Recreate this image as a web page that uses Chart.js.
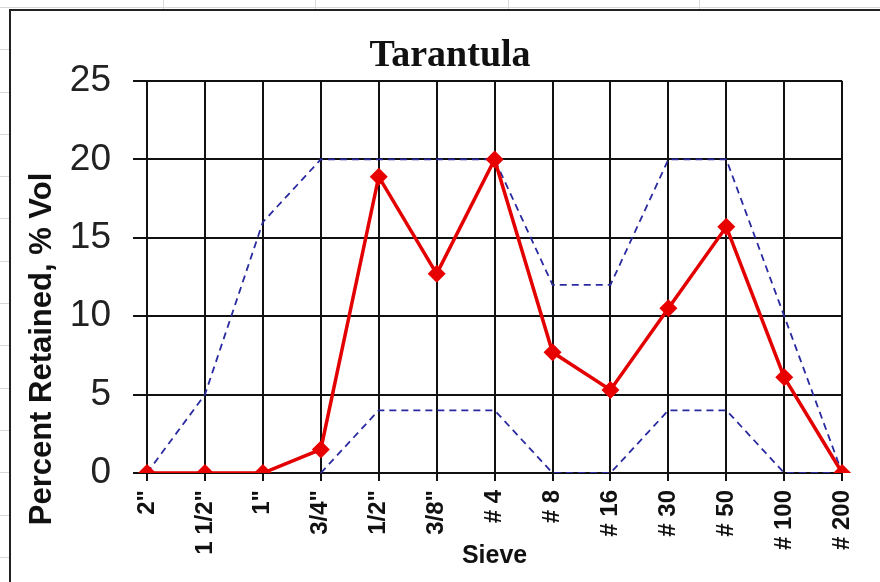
<!DOCTYPE html>
<html>
<head>
<meta charset="utf-8">
<script src="https://cdn.jsdelivr.net/npm/chart.js@4.4.1/dist/chart.umd.min.js"></script>
<style>
    body { margin: 0; width: 880px; height: 582px; overflow: hidden; position: relative; background: #fff; }
    /* spreadsheet cells behind the chart object */
    .sheet {
        position: absolute; left: 0; top: 0; width: 880px; height: 582px;
        background:
            linear-gradient(#d8d8d8, #d8d8d8) 163px 0 / 1px 100% no-repeat,
            linear-gradient(#d8d8d8, #d8d8d8) 315px 0 / 1px 100% no-repeat,
            linear-gradient(#d8d8d8, #d8d8d8) 508px 0 / 1px 100% no-repeat,
            linear-gradient(#d8d8d8, #d8d8d8) 699px 0 / 1px 100% no-repeat,
            repeating-linear-gradient(to bottom, transparent 0, transparent 7px, #d8d8d8 7px, #d8d8d8 8px, transparent 8px, transparent 42.3px);
    }
    .frame {
        position: absolute; left: 9px; top: 9px; right: -10px; bottom: -10px;
        background: #fff; border-left: 2px solid #222; border-top: 2px solid #222;
    }
    #chart { position: absolute; left: 0; top: 0; }
</style>
</head>
<body>
<div class="sheet"></div>
<div class="frame"></div>
<canvas id="chart" width="880" height="582"></canvas>
<script>
const sieves = ['2"', '1 1/2"', '1"', '3/4"', '1/2"', '3/8"', '# 4', '# 8', '# 16', '# 30', '# 50', '# 100', '# 200'];
const retained = [0, 0, 0, 1.5, 18.9, 12.7, 20, 7.7, 5.3, 10.5, 15.7, 6.1, 0];
const upperLimit = [0, 5, 16, 20, 20, 20, 20, 12, 12, 20, 20, 10, 0];
const lowerLimit = [null, null, null, 0, 4, 4, 4, 0, 0, 4, 4, 0, 0];
const yMin = 0, yMax = 25, yStep = 5;

const chartTitle = 'Tarantula';
const yTitle = 'Percent Retained, % Vol';
const xTitle = 'Sieve';

const sans = '"Liberation Sans", Arial, sans-serif';
const ink = '#111';

// Excel places the chart and value-axis titles on its own; draw them where the original has them
const freeTitles = {
    id: 'freeTitles',
    afterDraw: (chart) => {
        const ctx = chart.ctx;
        ctx.save();
        ctx.fillStyle = ink;
        ctx.textAlign = 'center';
        ctx.textBaseline = 'middle';
        ctx.font = 'bold 38px "Liberation Serif", "Times New Roman", serif';
        ctx.fillText(chartTitle, 450, 56);

        ctx.translate(42, 349);
        ctx.rotate(-Math.PI / 2);
        ctx.font = 'bold 31px ' + sans;
        ctx.fillText(yTitle, 0, 0);
        ctx.restore();
    }
};

new Chart(document.getElementById('chart'), {
    type: 'line',
    data: {
        labels: sieves,
        datasets: [
            {
                label: 'Tarantula',
                data: retained,
                borderColor: '#e30000',
                backgroundColor: '#e30000',
                borderWidth: 3.5,
                pointStyle: 'rectRot',
                pointRadius: 9,
                pointBorderWidth: 0,
                pointBackgroundColor: '#e80000',
                tension: 0
            },
            {
                label: 'Upper limit',
                data: upperLimit,
                borderColor: '#2a2aa0',
                borderWidth: 1.8,
                borderDash: [7, 5],
                pointRadius: 0,
                tension: 0
            },
            {
                label: 'Lower limit',
                data: lowerLimit,
                borderColor: '#2a2aa0',
                borderWidth: 1.8,
                borderDash: [7, 5],
                pointRadius: 0,
                tension: 0
            }
        ]
    },
    options: {
        responsive: false,
        animation: false,
        devicePixelRatio: 1,
        layout: { padding: { left: 0, right: 37, top: 81, bottom: 0 } },
        plugins: {
            legend: { display: false },
            tooltip: { enabled: false },
            title: { display: false }
        },
        scales: {
            x: {
                offset: false,
                grid: { color: ink, lineWidth: 2, tickLength: 8 },
                border: { color: ink, width: 2 },
                ticks: {
                    autoSkip: false,
                    minRotation: 90,
                    maxRotation: 90,
                    padding: 9,
                    color: ink,
                    font: { family: sans, size: 24, weight: 'bold' }
                },
                title: {
                    display: true,
                    text: xTitle,
                    color: ink,
                    font: { family: sans, size: 25, weight: 'bold' },
                    padding: { top: 0, bottom: 11 }
                },
                afterFit: (scale) => { scale.height = 109; }
            },
            y: {
                min: yMin,
                max: yMax,
                grid: { color: ink, lineWidth: 2, tickLength: 14 },
                border: { color: ink, width: 2 },
                ticks: {
                    stepSize: yStep,
                    padding: 22,
                    color: '#222',
                    font: { family: sans, size: 37 }
                },
                afterFit: (scale) => { scale.width = 147; }
            }
        }
    },
    plugins: [freeTitles]
});
</script>
</body>
</html>
